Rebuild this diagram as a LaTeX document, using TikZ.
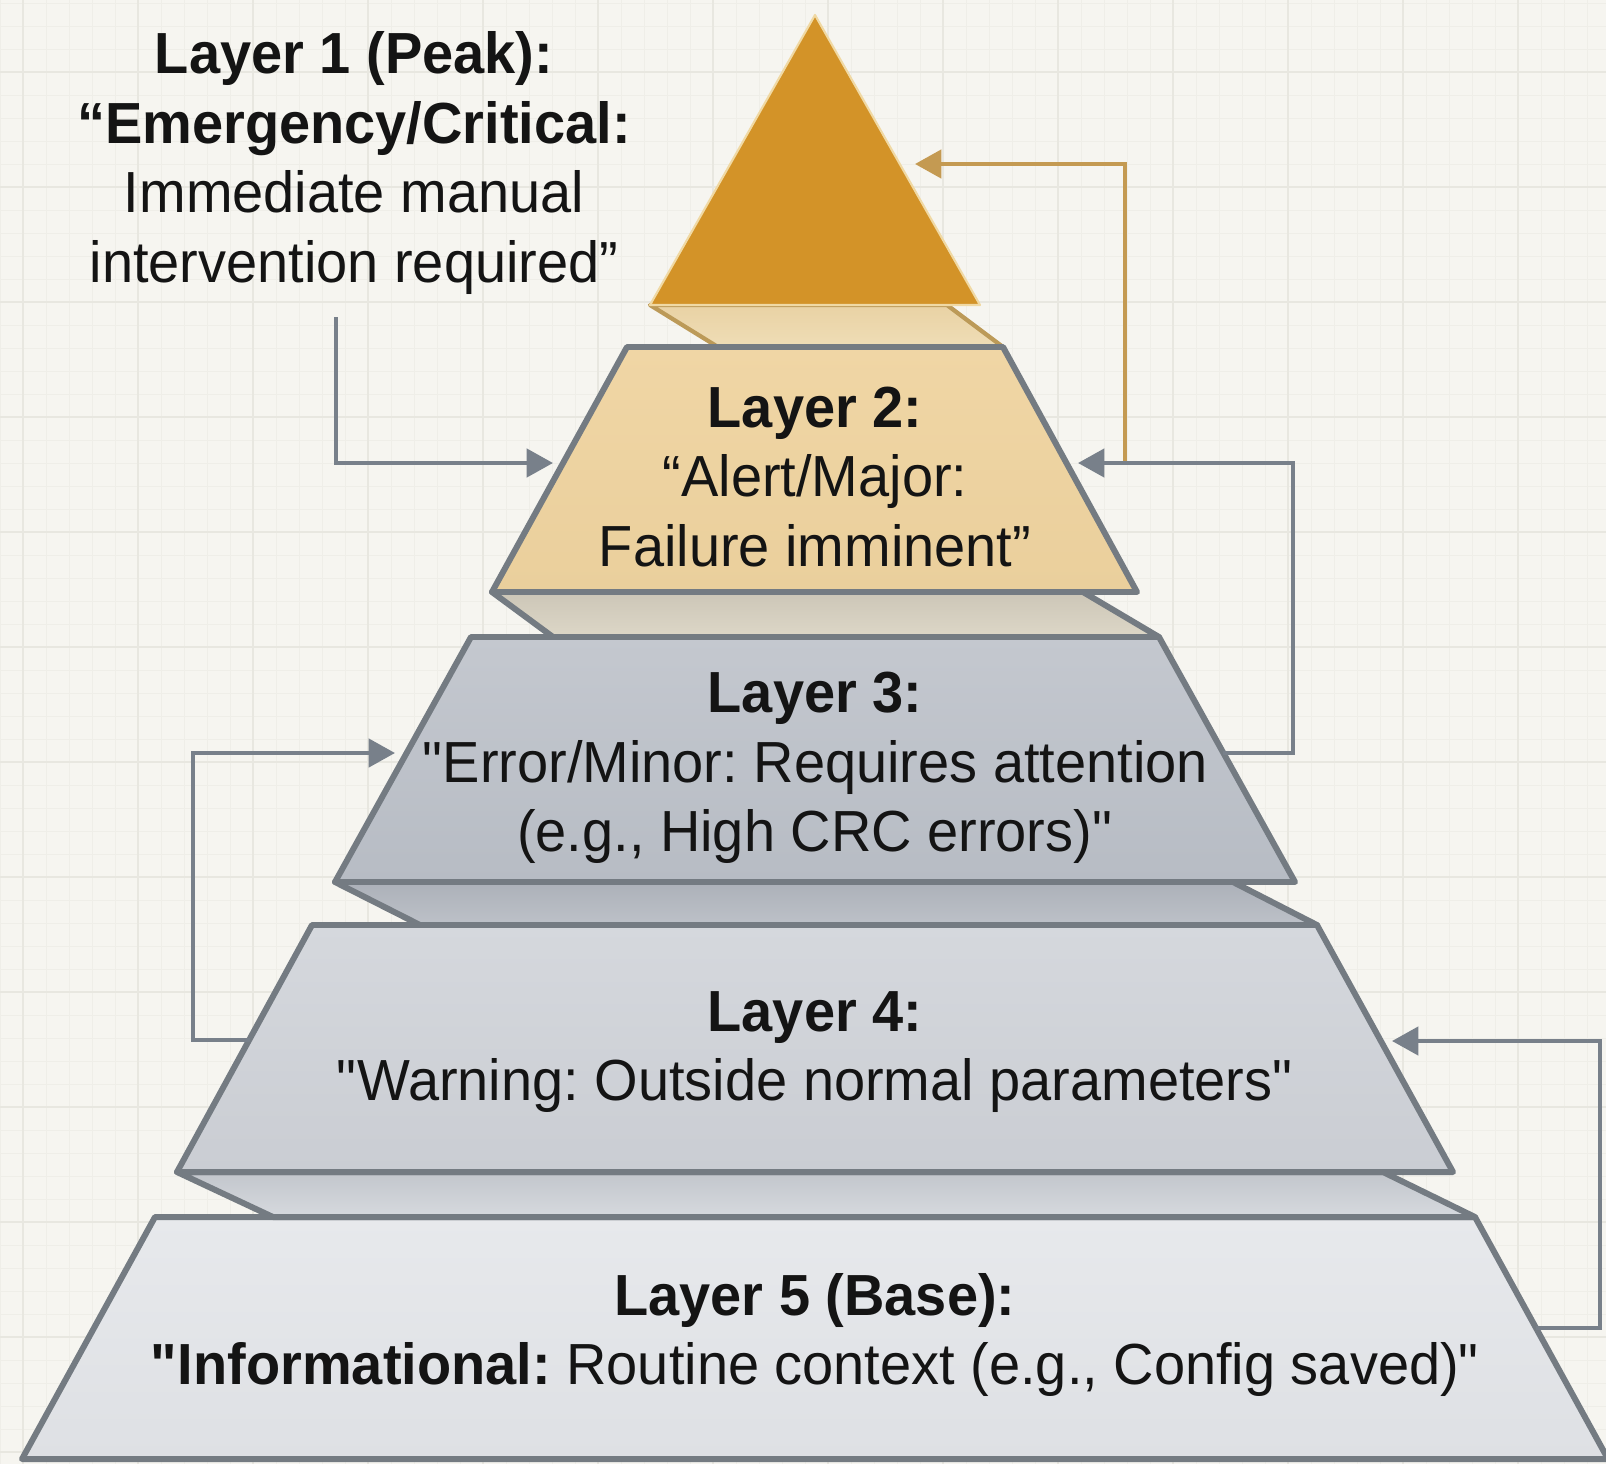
\documentclass[tikz,border=0pt]{standalone}
\usepackage{fontspec}
\setmainfont{Liberation Sans}[FakeStretch=0.965]
\usetikzlibrary{arrows.meta}
\frenchspacing

\definecolor{paper}{HTML}{F6F5F0}
\definecolor{gridminor}{HTML}{EFEEE8}
\definecolor{gridmajor}{HTML}{E8E7E0}
\definecolor{edgegray}{HTML}{747B82}
\definecolor{conngray}{HTML}{78808A}
\definecolor{connorange}{HTML}{C49A52}
\definecolor{gold}{HTML}{D39328}
\definecolor{goldedge}{HTML}{F0D9A4}
\definecolor{skirttop}{HTML}{E9D2A4}
\definecolor{skirtbot}{HTML}{EFDDB6}
\definecolor{skirtedge}{HTML}{BC9A58}
\definecolor{ltwotop}{HTML}{F0D6A5}
\definecolor{ltwobot}{HTML}{EACF9C}
\definecolor{btwotop}{HTML}{CCC6B7}
\definecolor{btwobot}{HTML}{DDD7C7}
\definecolor{lthreetop}{HTML}{C4C8CF}
\definecolor{lthreebot}{HTML}{B7BCC4}
\definecolor{bthreetop}{HTML}{ACB1B9}
\definecolor{bthreebot}{HTML}{BDC1C8}
\definecolor{lfourtop}{HTML}{D5D8DD}
\definecolor{lfourbot}{HTML}{CACDD3}
\definecolor{bfourtop}{HTML}{C2C6CC}
\definecolor{bfourbot}{HTML}{D6D9DE}
\definecolor{lfivetop}{HTML}{E7E9EC}
\definecolor{lfivebot}{HTML}{DEE0E4}
\definecolor{ink}{HTML}{141414}

\tikzset{
  slab/.style={draw=edgegray, line width=3.4pt, line join=round},
  conn/.style={draw=conngray, line width=2.4pt, line join=miter,
    -{Triangle[length=15pt,width=16pt]}},
  connwarm/.style={conn, draw=connorange},
  lbl/.style={text=ink, align=center, inner sep=0pt,
    font=\fontsize{33}{39.5}\selectfont},
}

\begin{document}
\begin{tikzpicture}[x=0.02cm,y=-0.02cm]
\useasboundingbox (0,0) rectangle (1606,1464);

% paper with a faint drafting grid
\fill[paper] (0,0) rectangle (1606,1464);
\foreach \g in {0,23,...,1620} {
  \draw[gridminor, line width=0.5pt] (\g,0) -- (\g,1464);
}
\foreach \g in {3,26,...,1480} {
  \draw[gridminor, line width=0.5pt] (0,\g) -- (1606,\g);
}
\foreach \g in {23,138,...,1620} {
  \draw[gridmajor, line width=1.2pt] (\g,0) -- (\g,1464);
}
\foreach \g in {72,187,...,1480} {
  \draw[gridmajor, line width=1.2pt] (0,\g) -- (1606,\g);
}

% ---- pyramid slabs, base first ----
\path[slab, top color=lfivetop, bottom color=lfivebot]
  (155,1217) -- (1475,1217) -- (1608,1459) -- (22,1459) -- cycle;
\path[slab, top color=bfourtop, bottom color=bfourbot]
  (177,1172) -- (273,1217) -- (1475,1217) -- (1383,1172) -- cycle;
\path[slab, top color=lfourtop, bottom color=lfourbot]
  (312,925) -- (1317,925) -- (1453,1172) -- (177,1172) -- cycle;
\path[slab, top color=bthreetop, bottom color=bthreebot]
  (335,882) -- (420,925) -- (1317,925) -- (1233,882) -- cycle;
\path[slab, top color=lthreetop, bottom color=lthreebot]
  (471,637) -- (1159,637) -- (1295,882) -- (335,882) -- cycle;
\path[slab, top color=btwotop, bottom color=btwobot]
  (492,592) -- (553,637) -- (1159,637) -- (1083,592) -- cycle;
\path[draw=skirtedge, line width=2.4pt, line join=round,
      top color=skirttop, bottom color=skirtbot]
  (650,305) -- (718,347) -- (1003,347) -- (947,305) -- cycle;
\path[slab, top color=ltwotop, bottom color=ltwobot]
  (627,347) -- (1003,347) -- (1137,592) -- (492,592) -- cycle;
\filldraw[fill=gold, draw=goldedge, line width=1.2pt, line join=round]
  (815,15) -- (980,305) -- (650,305) -- cycle;

% ---- connector anchors ----
\coordinate (l1s) at (336,317);
\coordinate (l2w) at (553,463);
\coordinate (l3e) at (1223,753);
\coordinate (rb2) at (1293,463);
\coordinate (l2e) at (1078,463);
\coordinate (obr) at (1125,463);
\coordinate (l1e) at (915,164);
\coordinate (l4w) at (250,1040);
\coordinate (lb3) at (193,753);
\coordinate (l3w) at (395,753);
\coordinate (l5e) at (1536,1328);
\coordinate (rb4) at (1600,1041);
\coordinate (l4e) at (1392,1041);

% ---- connectors ----
\draw[connwarm] (obr) |- (l1e);
\draw[conn] (l1s) |- (l2w);
\draw[conn] (l3e) -| (rb2) -- (l2e);
\draw[conn] (l4w) -| (lb3) -- (l3w);
\draw[conn] (l5e) -| (rb4) -- (l4e);

% ---- labels ----
\node[lbl] (t1) at (354,163)
  {\textbf{Layer 1 (Peak):}\\\textbf{“Emergency/Critical:}\\Immediate manual\\intervention required”};
\node[lbl] (t2) at (815,477)
  {\textbf{Layer 2:}\\“Alert/Major:\\Failure imminent”};
\node[lbl] (t3) at (815,768)
  {\textbf{Layer 3:}\\\textquotedbl Error/Minor: Requires attention\\(e.g., High CRC errors)\textquotedbl};
\node[lbl] (t4) at (815,1052)
  {\textbf{Layer 4:}\\\textquotedbl Warning: Outside normal parameters\textquotedbl};
\node[lbl] (t5) at (815,1335)
  {\textbf{Layer 5 (Base):}\\\textbf{\textquotedbl Informational:} Routine context (e.g., Config saved)\textquotedbl};
\end{tikzpicture}
\end{document}
